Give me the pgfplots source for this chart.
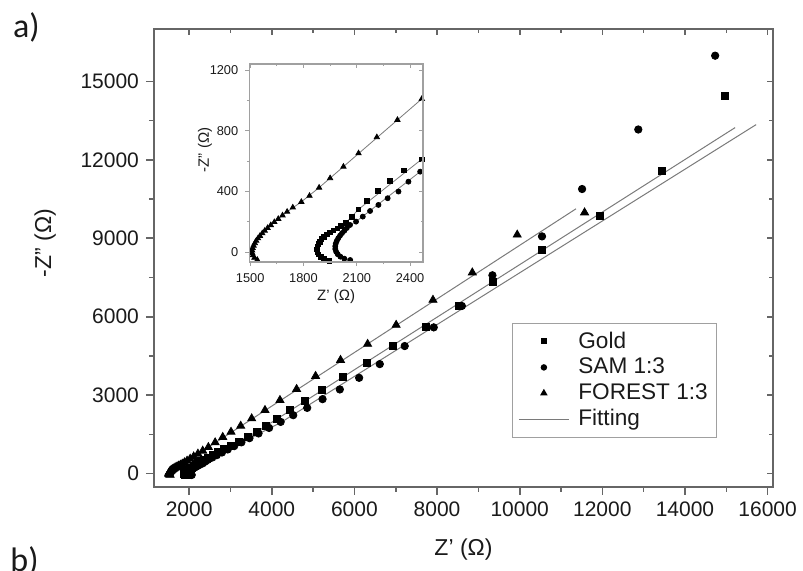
\documentclass[border=0pt]{standalone}
\usepackage{fontspec}
\setmainfont{Liberation Sans}
\newfontfamily\calibri{Carlito}
\usepackage{pgfplots}
\usepackage{pgfplotstable}
\pgfplotsset{compat=1.18}

\definecolor{framegray}{HTML}{666666}
\definecolor{insetgray}{HTML}{A0A0A0}
\definecolor{fitgray}{HTML}{7A7A7A}
\definecolor{txt}{HTML}{1A1A1A}

\pgfplotstableread{
x y
1946 -57
1915 -45
1897 -30
1885 -14
1878 3
1876 20
1878 37
1883 54
1891 70
1902 87
1915 102
1931 117
1949 131
1969 145
1990 158
2012 172
2038 195
2072 235
2110 283
2157 340
2219 404
2288 470
2367 538
2466 613
2580 709
2705 814
2850 936
3015 1074
3200 1229
3415 1410
3635 1595
3860 1813
4133 2106
4440 2426
4802 2783
5220 3195
5712 3700
6292 4216
6935 4889
7725 5612
8530 6411
9350 7332
10540 8555
11930 9860
13430 11559
14970 14432
}\gold

\pgfplotstableread{
x y
2063 -51
2030 -42
2008 -29
1993 -13
1984 4
1979 22
1979 40
1982 58
1988 76
1996 93
2006 110
2017 126
2030 142
2044 160
2062 180
2096 202
2134 235
2175 272
2222 312
2274 356
2335 400
2391 465
2457 531
2560 616
2670 706
2795 809
2935 924
3090 1052
3265 1196
3460 1356
3680 1537
3935 1747
4215 1978
4519 2235
4857 2514
5229 2848
5647 3219
6114 3663
6614 4188
7217 4878
7920 5592
8600 6411
9340 7584
10540 9071
11510 10882
12870 13158
14730 15980
}\sam

\pgfplotstableread{
x y
1540 -50
1524 -36
1515 -20
1511 -4
1511 12
1514 28
1519 44
1526 60
1534 76
1544 92
1555 108
1568 125
1582 142
1598 160
1616 179
1636 199
1658 220
1682 243
1708 267
1740 295
1788 332
1834 372
1888 426
1950 488
2025 564
2110 652
2213 758
2329 872
2466 1010
2630 1190
2814 1395
3014 1594
3248 1825
3514 2107
3836 2426
4198 2809
4601 3230
5060 3729
5664 4341
6320 4955
7010 5683
7901 6640
8853 7686
9940 9132
11570 9982
}\forest

\pgfplotstableread{
x y
1946 -57
1897 -30
1878 3
1878 37
1891 70
1915 102
1949 131
1990 158
2038 195
2072 235
2110 283
2466 613
3635 1595
15213 13230
}\goldfit

\pgfplotstableread{
x y
2063 -51
2008 -29
1984 4
1979 40
1988 76
2006 110
2030 142
2062 180
2096 202
2457 531
4215 1950
15722 13345
}\samfit

\pgfplotstableread{
x y
1540 -50
1515 -20
1511 12
1519 44
1534 76
1555 108
1582 142
1616 179
1658 220
1708 267
1788 332
1888 426
2025 564
2466 1010
11363 10126
}\forestfit

\pgfplotsset{
  mainbase/.style={
    at={(77pt,41.65pt)}, anchor=south west, scale only axis,
    width=309.5pt, height=228.85pt,
    xmin=1150, xmax=16130, ymin=-500, ymax=17000,
    xtick={2000,4000,...,16000}, ytick={0,3000,...,15000},
    minor x tick num=1, minor y tick num=1,
    scaled ticks=false,
    axis line style={draw=framegray, line width=0.9pt},
    every tick/.style={framegray, line width=0.8pt},
    /pgf/number format/1000 sep={},
    /pgf/number format/assume math mode=true,
    tick label style={font=\fontsize{10.5}{12}\selectfont, text=txt},
  },
  insetbase/.style={
    at={(124.65pt,154pt)}, anchor=south west, scale only axis,
    width=86.85pt, height=99pt,
    xmin=1495, xmax=2473, ymin=-64, ymax=1240,
    xtick={1500,1800,2100,2400}, ytick={0,400,800,1200},
    minor x tick num=1, minor y tick num=1,
    scaled ticks=false,
    axis line style={draw=insetgray, line width=0.6pt},
    every tick/.style={insetgray, line width=0.5pt},
    /pgf/number format/1000 sep={},
    /pgf/number format/assume math mode=true,
    tick label style={font=\fontsize{6.4}{7.5}\selectfont, text=txt},
  },
}

\begin{document}
\begin{tikzpicture}
\path[use as bounding box] (0,0) rectangle (401.5pt,285pt);
\node[font=\calibri\fontsize{17}{20}\selectfont, text=txt, inner sep=0pt] at (13.25pt,271.25pt) {a)};
\node[font=\calibri\fontsize{17}{20}\selectfont, text=txt, inner sep=0pt, anchor=north west] at (5pt,12pt) {b)};

\begin{axis}[mainbase,
  tick align=outside, xtick pos=bottom, ytick pos=left,
  major tick length=4pt, minor tick length=2.5pt,
  xlabel={Z' (Ω)}, ylabel={-Z'' (Ω)},
  xlabel style={at={(axis description cs:0.5,-0.138)}, anchor=center, font=\fontsize{11.5}{13}\selectfont, text=txt},
  ylabel style={at={(axis description cs:-0.176,0.532)}, anchor=center, font=\fontsize{11.5}{13}\selectfont, text=txt},
  legend image code/.code={\draw[mark repeat=2,mark phase=2,#1] plot coordinates {(0pt,0pt) (12.5pt,0pt) (25pt,0pt)};},
  legend style={at={(axis description cs:0.578,0.358)}, anchor=north west,
    draw=insetgray, line width=0.6pt, inner xsep=3pt, inner ysep=2.6pt,
    font=\fontsize{11.3}{13}\selectfont, text=txt, row sep=0.5pt,
    nodes={inner sep=1.5pt},
    /tikz/every odd column/.append style={column sep=3pt}},
  legend cell align=left,
]
\addplot[forget plot, fitgray, line width=0.5pt] table {\forestfit};
\addplot[forget plot, fitgray, line width=0.5pt] table {\goldfit};
\addplot[forget plot, fitgray, line width=0.5pt] table {\samfit};
\addplot[forget plot, only marks, mark=square*, mark size=1.75pt, black] table {\gold};
\addplot[forget plot, only marks, mark=*, mark size=1.85pt, black] table {\sam};
\addplot[forget plot, only marks, mark=triangle*, mark size=2.3pt, black] table {\forest};
\addlegendimage{only marks, mark=square*, mark size=1.2pt, black}
\addlegendentry{Gold}
\addlegendimage{only marks, mark=*, mark size=1.3pt, black}
\addlegendentry{SAM 1:3}
\addlegendimage{only marks, mark=triangle*, mark size=1.6pt, black}
\addlegendentry{FOREST 1:3}
\addlegendimage{fitgray, line width=0.5pt}
\addlegendentry{Fitting}
\end{axis}

\begin{axis}[mainbase,
  tick align=inside, xtick pos=top, ytick pos=right,
  major tick length=3pt, minor tick length=2pt,
  xticklabels={}, yticklabels={},
]
\end{axis}

\begin{axis}[insetbase, clip=false,
  axis background/.style={fill=white},
  tick align=outside, xtick pos=bottom, ytick pos=left,
  major tick length=2pt, minor tick length=1.2pt,
  xlabel={Z' (Ω)}, ylabel={-Z'' (Ω)},
  xlabel style={at={(axis description cs:0.5,-0.177)}, anchor=center, font=\fontsize{7.5}{9}\selectfont, text=txt},
  ylabel style={at={(axis description cs:-0.255,0.566)}, anchor=center, font=\fontsize{7.5}{9}\selectfont, text=txt},
  restrict x to domain=1490:2480,
]
\addplot[fitgray, line width=0.4pt] table {\forestfit};
\addplot[fitgray, line width=0.4pt] table {\goldfit};
\addplot[fitgray, line width=0.4pt] table {\samfit};
\addplot[only marks, mark=square*, mark size=1.15pt, black] table {\gold};
\addplot[only marks, mark=*, mark size=1.25pt, black] table {\sam};
\addplot[only marks, mark=triangle*, mark size=1.5pt, black] table {\forest};
\end{axis}

\begin{axis}[insetbase,
  tick align=inside, xtick pos=top, ytick pos=right,
  major tick length=2pt, minor tick length=1.2pt,
  xticklabels={}, yticklabels={},
]
\end{axis}
\end{tikzpicture}
\end{document}
